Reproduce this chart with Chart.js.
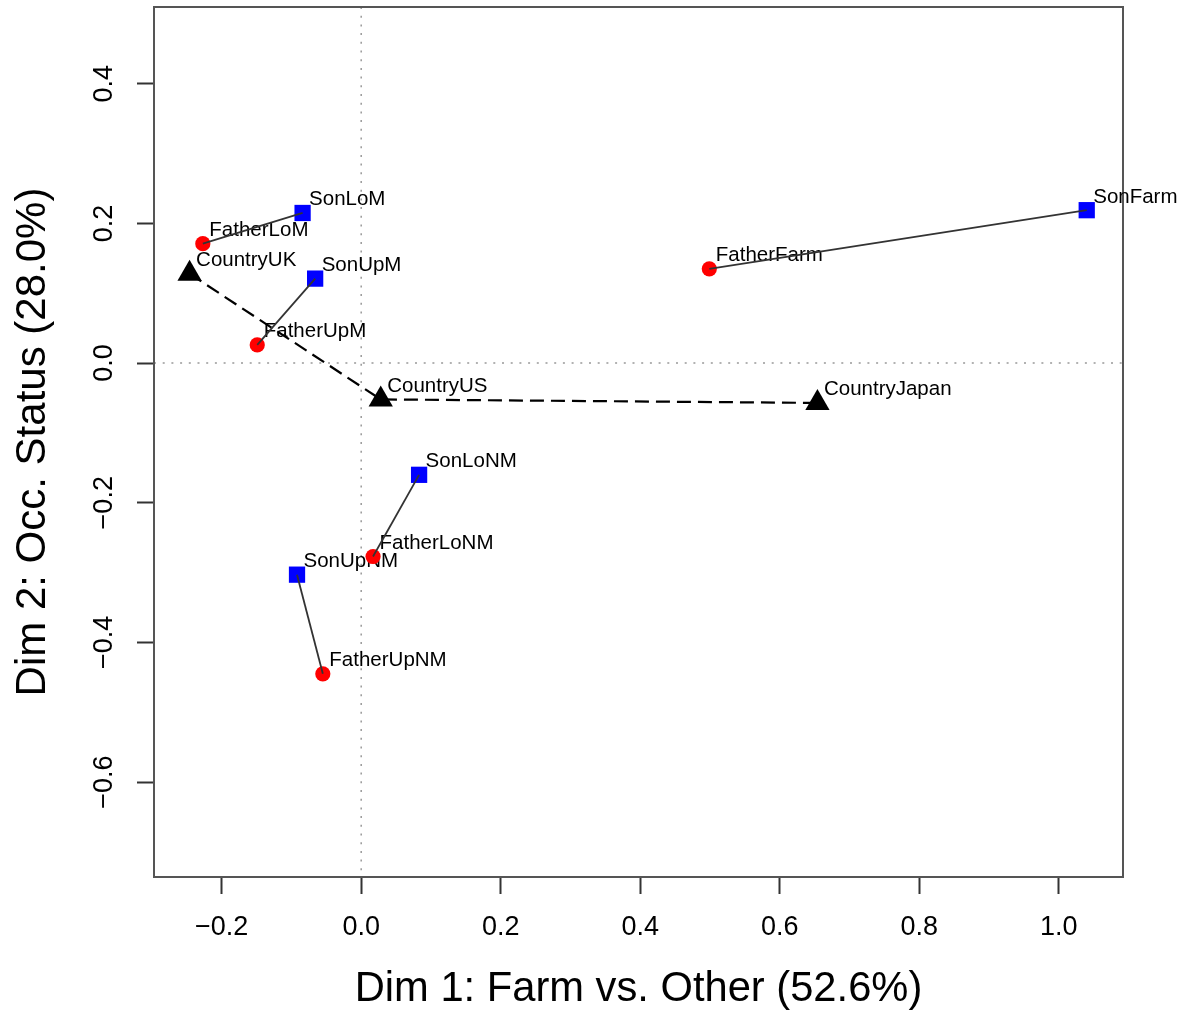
<!DOCTYPE html>
<html>
<head>
<meta charset="utf-8">
<title>Mobility CA map</title>
<script src="https://cdn.jsdelivr.net/npm/chart.js@4.4.1/dist/chart.umd.min.js"></script>
<style>
  html, body { margin: 0; padding: 0; background: #fff; }
  canvas { display: block; }
</style>
</head>
<body>
<canvas id="caPlot" width="1184" height="1012"></canvas>
<script>
// occupational categories (rows = Father, columns = Son)
const categories = ['Farm', 'LoM', 'UpM', 'LoNM', 'UpNM'];
const fatherX = [0.499, -0.227, -0.149, 0.017, -0.055];
const fatherY = [0.135, 0.171, 0.026, -0.277, -0.445];
const sonX = [1.040, -0.084, -0.066, 0.083, -0.092];
const sonY = [0.219, 0.215, 0.121, -0.160, -0.303];

// supplementary country points
const countries = ['UK', 'US', 'Japan'];
const countryX = [-0.246, 0.028, 0.654];
const countryY = [0.128, -0.052, -0.057];

const xTicks = [-0.2, 0.0, 0.2, 0.4, 0.6, 0.8, 1.0];
const yTicks = [-0.6, -0.4, -0.2, 0.0, 0.2, 0.4];

const FONT = '"Liberation Sans", Arial, Helvetica, sans-serif';
Chart.defaults.font.family = FONT;
Chart.defaults.color = '#000';

function fmt(v) {
    return (v < 0 ? '\u2212' : '') + Math.abs(v).toFixed(1);
}

function pts(xs, ys) {
    return xs.map((x, i) => ({ x: x, y: ys[i] }));
}

// text next to each point, drawn right after its dataset
const pointLabels = {
    id: 'pointLabels',
    afterDatasetDraw(chart, args) {
        const ds = chart.data.datasets[args.index];
        if (!ds.names) return;
        const ctx = chart.ctx;
        ctx.save();
        ctx.font = '20.5px ' + FONT;
        ctx.fillStyle = '#000';
        ctx.textAlign = 'left';
        ctx.textBaseline = 'alphabetic';
        args.meta.data.forEach((pt, i) => {
            ctx.fillText(ds.names[i], pt.x + 6.5, pt.y - 7.5);
        });
        ctx.restore();
    }
};

// box around the plot and dotted lines through the origin
const frame = {
    id: 'frame',
    beforeDatasetsDraw(chart) {
        const { ctx, chartArea: a, scales } = chart;
        const x0 = scales.x.getPixelForValue(0);
        const y0 = scales.y.getPixelForValue(0);
        ctx.save();
        ctx.strokeStyle = '#999';
        ctx.lineWidth = 1.5;
        ctx.setLineDash([2, 6.7]);
        ctx.beginPath();
        ctx.moveTo(x0, a.top);
        ctx.lineTo(x0, a.bottom);
        ctx.moveTo(a.left, y0);
        ctx.lineTo(a.right, y0);
        ctx.stroke();
        ctx.setLineDash([]);
        ctx.strokeStyle = '#555';
        ctx.lineWidth = 2;
        ctx.strokeRect(a.left, a.top, a.right - a.left, a.bottom - a.top);
        ctx.restore();
    }
};

const segments = categories.map((c, i) => ({
    label: c,
    data: [{ x: fatherX[i], y: fatherY[i] }, { x: sonX[i], y: sonY[i] }],
    showLine: true,
    borderColor: '#333',
    borderWidth: 1.8,
    pointRadius: 0,
    pointHoverRadius: 0
}));

const datasets = segments.concat([
    {
        label: 'Father',
        names: categories.map(c => 'Father' + c),
        data: pts(fatherX, fatherY),
        pointStyle: 'circle',
        pointRadius: 7.6,
        pointBackgroundColor: '#ff0000',
        pointBorderWidth: 0
    },
    {
        label: 'Son',
        names: categories.map(c => 'Son' + c),
        data: pts(sonX, sonY),
        pointStyle: 'rect',
        pointRadius: 11.5,
        pointBackgroundColor: '#0000ff',
        pointBorderWidth: 0
    },
    {
        label: 'Country',
        names: countries.map(c => 'Country' + c),
        data: pts(countryX, countryY),
        showLine: true,
        borderColor: '#000',
        borderWidth: 2.2,
        borderDash: [14, 7],
        pointStyle: 'triangle',
        pointRadius: 14,
        pointBackgroundColor: '#000',
        pointBorderWidth: 0
    }
]);

const tickGrid = {
    display: true,
    drawOnChartArea: false,
    drawTicks: true,
    tickLength: 17,
    tickWidth: 2,
    tickColor: '#333'
};

new Chart(document.getElementById('caPlot'), {
    type: 'scatter',
    data: { datasets: datasets },
    plugins: [frame, pointLabels],
    options: {
        responsive: false,
        animation: false,
        events: [],
        devicePixelRatio: 1,
        layout: {
            autoPadding: false,
            padding: { top: 7, right: 61, bottom: 0, left: 0 }
        },
        plugins: {
            legend: { display: false },
            tooltip: { enabled: false }
        },
        scales: {
            x: {
                type: 'linear',
                min: -0.297,
                max: 1.092,
                afterBuildTicks: s => { s.ticks = xTicks.map(v => ({ value: v })); },
                afterFit: s => {
                    s.height = 135;
                    s.paddingLeft = 0;
                    s.paddingRight = 0;
                },
                grid: tickGrid,
                border: { display: false },
                ticks: {
                    callback: v => fmt(v),
                    font: { size: 27, lineHeight: 1 },
                    color: '#000',
                    padding: 20,
                    autoSkip: false,
                    minRotation: 0,
                    maxRotation: 0
                },
                title: {
                    display: true,
                    text: 'Dim 1: Farm vs. Other (52.6%)',
                    font: { size: 41.7, lineHeight: 1 },
                    color: '#000',
                    padding: { top: 0, bottom: 2 }
                }
            },
            y: {
                type: 'linear',
                min: -0.736,
                max: 0.510,
                afterBuildTicks: s => { s.ticks = yTicks.map(v => ({ value: v })); },
                afterFit: s => {
                    s.width = 154;
                    s.paddingTop = 0;
                    s.paddingBottom = 0;
                },
                grid: tickGrid,
                border: { display: false },
                ticks: {
                    callback: v => fmt(v),
                    font: { size: 27, lineHeight: 1 },
                    color: '#000',
                    padding: 6,
                    crossAlign: 'center',
                    autoSkip: false,
                    minRotation: 90,
                    maxRotation: 90
                },
                title: {
                    display: true,
                    text: 'Dim 2: Occ. Status (28.0%)',
                    font: { size: 42, lineHeight: 1 },
                    color: '#000',
                    padding: { top: 12, bottom: 0 }
                }
            }
        }
    }
});
</script>
</body>
</html>
